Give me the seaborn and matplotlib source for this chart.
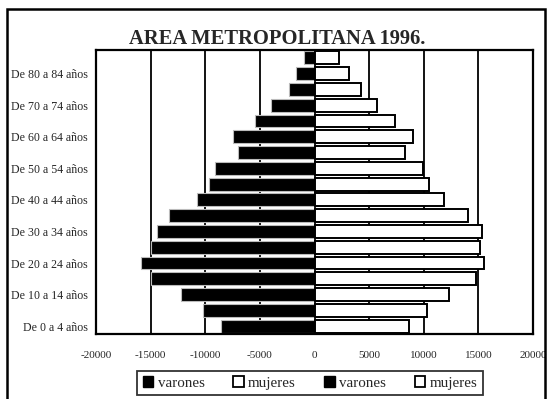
import matplotlib
matplotlib.use("Agg")
import matplotlib.pyplot as plt
import seaborn as sns
import pandas as pd
from matplotlib.patches import Patch, Rectangle

# Age groups, oldest first (top of the pyramid)
age_groups = ["De 85 y más", "De 80 a 84 años", "De 75 a 79 años", "De 70 a 74 años",
              "De 65 a 69 años", "De 60 a 64 años", "De 55 a 59 años", "De 50 a 54 años",
              "De 45 a 49 años", "De 40 a 44 años", "De 35 a 39 años", "De 30 a 34 años",
              "De 25 a 29 años", "De 20 a 24 años", "De 15 a 19 años", "De 10 a 14 años",
              "De 5 a 9 años", "De 0 a 4 años"]
varones = [960, 1660, 2360, 4000, 5480, 7480, 6970, 9090, 9700,
           10730, 13330, 14390, 14940, 15850, 14940, 12210, 10240, 8580]
mujeres = [2250, 3180, 4240, 5700, 7340, 9000, 8250, 9910, 10450,
           11880, 14060, 15360, 15150, 15550, 14790, 12270, 10270, 8640]
x_ticks = [-20000, -15000, -10000, -5000, 0, 5000, 10000, 15000, 20000]
title = "AREA METROPOLITANA 1996."

df = pd.DataFrame({"edad": age_groups,
                   "varones": [-v for v in varones],
                   "mujeres": mujeres})

sns.set_style("white")
plt.rcParams["font.family"] = ["Liberation Serif", "DejaVu Serif"]

W, H = 549, 399
fig = plt.figure(figsize=(W / 100, H / 100), dpi=100)
ax = fig.add_axes([96 / W, 1 - 334 / H, 437 / W, 284 / H])

sns.barplot(data=df, x="varones", y="edad", order=age_groups, color="black",
            edgecolor="#bbbbbb", linewidth=0.8, width=0.82, ax=ax)
n_male = len(ax.patches)
sns.barplot(data=df, x="mujeres", y="edad", order=age_groups, color="white",
            edgecolor="black", linewidth=1.4, width=0.82, ax=ax)
# make sure bars are opaque and sit above the gridlines
for i, p in enumerate(ax.patches):
    p.set_alpha(1.0)
    p.set_facecolor("black" if i < n_male else "white")
    p.set_zorder(3)

# black vertical gridlines, kept behind the bars
ax.set_axisbelow(True)
ax.grid(axis="x", color="black", lw=1.3, zorder=0)
ax.grid(axis="y", visible=False)

ax.set_xlim(-20000, 20000)
ax.set_ylim(len(age_groups) - 0.5, -0.5)
ax.set_xticks(x_ticks)
ax.set_xticklabels([str(t) for t in x_ticks], fontsize=8)
ax.set_yticks(range(len(age_groups)))
ax.set_yticklabels([lab if i % 2 == 1 else "" for i, lab in enumerate(age_groups)],
                   fontsize=8.6)
ax.set_xlabel("")
ax.set_ylabel("")
ax.tick_params(axis="x", length=3, width=1, pad=9)
ax.tick_params(axis="y", length=0, pad=6)
for s in ax.spines.values():
    s.set_visible(True)
    s.set_color("black")
    s.set_linewidth(1.6)
    s.set_zorder(4)

fig.text(277 / W, 1 - 39 / H, title, ha="center", va="center",
         fontsize=14.8, fontweight="bold")

handles = [Patch(facecolor="black", edgecolor="black"),
           Patch(facecolor="white", edgecolor="black", linewidth=1.3),
           Patch(facecolor="black", edgecolor="black"),
           Patch(facecolor="white", edgecolor="black", linewidth=1.3)]
labels = ["varones", "mujeres", "varones", "mujeres"]
leg = fig.legend(handles, labels, loc="upper center", ncol=4,
                 bbox_to_anchor=(310 / W, 1 - 371 / H), fontsize=10.8,
                 frameon=True, fancybox=False, edgecolor="black",
                 handlelength=0.7, handleheight=0.7, handletextpad=0.3,
                 columnspacing=1.9, borderpad=0.35, borderaxespad=0)
leg.get_frame().set_linewidth(1.3)

# outer chart border (runs off the bottom of the image)
fig.patches.append(Rectangle((7 / W, -0.05), 538 / W, 1.05 - 9 / H,
                             transform=fig.transFigure, fill=False,
                             edgecolor="black", lw=1.8))

fig.savefig("out.png", dpi=100)
